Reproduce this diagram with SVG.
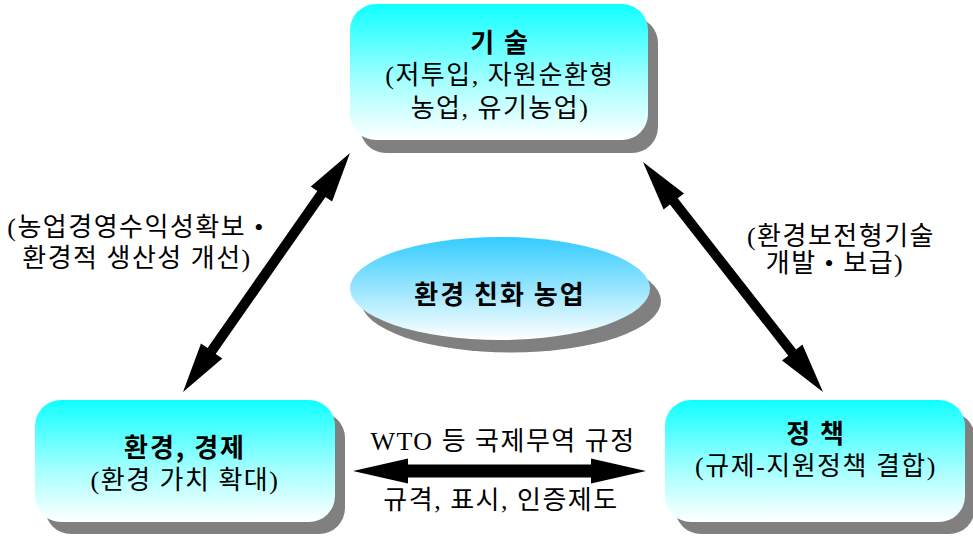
<svg xmlns="http://www.w3.org/2000/svg" width="973" height="537" viewBox="0 0 973 537">
<defs>
<linearGradient id="boxGrad" x1="0" y1="0" x2="0" y2="1">
<stop offset="0" stop-color="#10ffff"/>
<stop offset="0.55" stop-color="#a0ffff"/>
<stop offset="1" stop-color="#ffffff"/>
</linearGradient>
<linearGradient id="ellGrad" x1="0" y1="0" x2="0" y2="1">
<stop offset="0" stop-color="#33ccff"/>
<stop offset="1" stop-color="#ffffff"/>
</linearGradient>
<style>
.shadow{fill:#808080;}
.box{fill:url(#boxGrad);}
.ell{fill:url(#ellGrad);}
.title{font-family:"Noto Sans CJK KR","Noto Sans",sans-serif;font-weight:bold;font-size:26px;letter-spacing:2px;fill:#000;text-anchor:middle;}
.txt{font-family:"Liberation Serif","Noto Sans CJK KR",serif;font-size:26px;letter-spacing:1.5px;fill:#000;text-anchor:middle;}
.arrow{fill:#000;}
</style>
</defs>
<rect width="973" height="537" fill="#ffffff"/>

<g id="node-tech">
<rect class="shadow" x="360" y="17" width="298" height="136" rx="26"/>
<rect class="box" x="350" y="4" width="298" height="136" rx="26"/>
<text class="title" x="500" y="52">기 술</text>
<text class="txt" x="500" y="84">(저투입, 자원순환형</text>
<text class="txt" x="500" y="117">농업, 유기농업)</text>
</g>

<g id="node-env-econ">
<rect class="shadow" x="45" y="412" width="300" height="122" rx="26"/>
<rect class="box" x="35" y="400" width="300" height="122" rx="26"/>
<text class="title" x="185" y="457">환경, 경제</text>
<text class="txt" x="185" y="489">(환경 가치 확대)</text>
</g>

<g id="node-policy">
<rect class="shadow" x="675" y="412" width="300" height="122" rx="26"/>
<rect class="box" x="665" y="400" width="300" height="122" rx="26"/>
<text class="title" x="816" y="443">정 책</text>
<text class="txt" x="816" y="475">(규제-지원정책 결합)</text>
</g>

<g id="node-center">
<ellipse class="shadow" cx="511" cy="301" rx="150" ry="51.5"/>
<ellipse class="ell" cx="500" cy="288.5" rx="150" ry="51.5"/>
<text class="title" x="500" y="304">환경 친화 농업</text>
</g>

<g id="connectors">
<polygon class="arrow" points="183,392 222.3,358.4 215.7,353.9 325.5,196.9 332.1,201.4 350,153 310.8,186.6 317.3,191.1 207.5,348.1 201,343.6"/>
<polygon class="arrow" points="643,162 663.6,209.4 669.9,204.5 788.3,355.7 782,360.6 823,392 802.4,344.6 796.1,349.5 677.7,198.3 684,193.4"/>
<polygon class="arrow" points="353,471 408,458.5 408,464.5 591,464.5 591,458.5 646,471 591,483.5 591,477.5 408,477.5 408,483.5"/>
</g>

<g id="labels">
<text class="txt" x="136" y="236">(농업경영수익성확보 •</text>
<text class="txt" x="137" y="267">환경적 생산성 개선)</text>
<text class="txt" x="841" y="245">(환경보전형기술</text>
<text class="txt" x="835" y="272">개발 • 보급)</text>
<text class="txt" x="503" y="450">WTO 등 국제무역 규정</text>
<text class="txt" x="501" y="509">규격, 표시, 인증제도</text>
</g>
</svg>
